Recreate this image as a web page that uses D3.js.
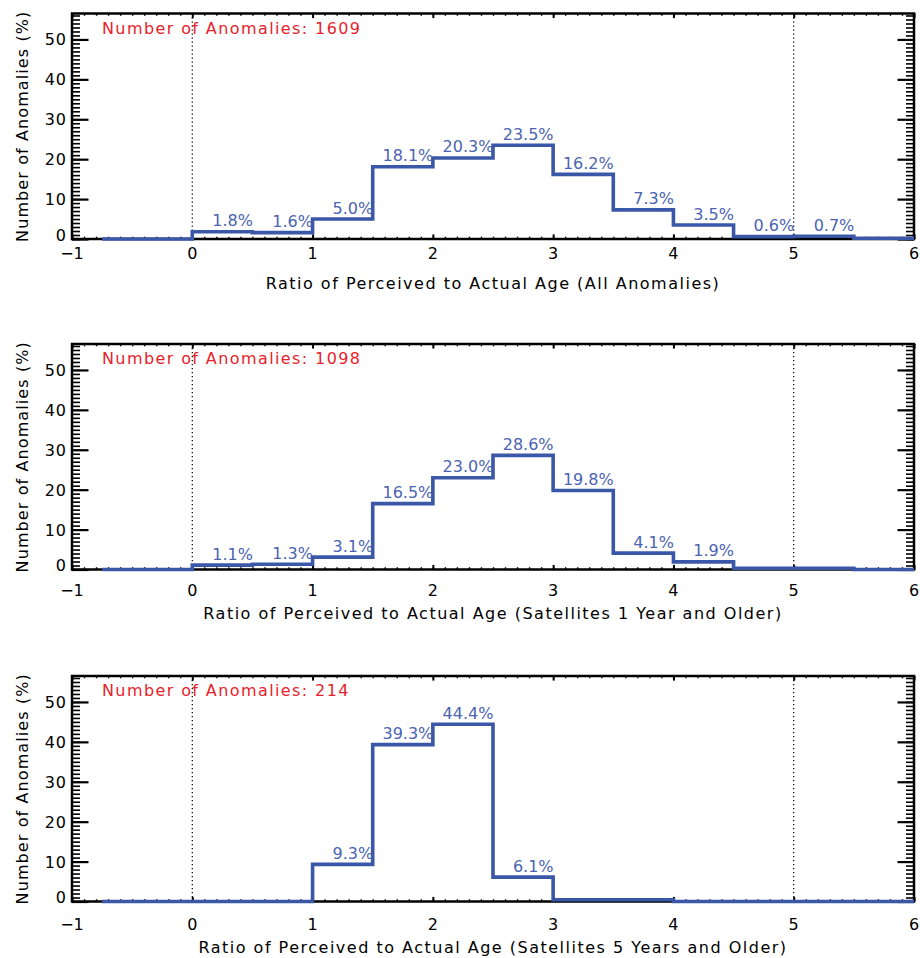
<!DOCTYPE html>
<html><head><meta charset="utf-8">
<script src="https://cdn.jsdelivr.net/npm/d3@7"></script>
<style>
body{margin:0;background:#fff}
text{font-family:"DejaVu Sans",sans-serif}
</style>
</head><body>
<svg id="c" width="920" height="958"></svg>
<script>
// ---- data ----
const binLeft = [0, 0.5, 1, 1.5, 2, 2.5, 3, 3.5, 4, 4.5, 5, 5.5];
const allAnomalies = [1.8, 1.6, 5.0, 18.1, 20.3, 23.5, 16.2, 7.3, 3.5, 0.6, 0.7, 0.2];
const sat1Year     = [1.1, 1.3, 3.1, 16.5, 23.0, 28.6, 19.8, 4.1, 1.9, 0.3, 0.3, 0.0];
const sat5Year     = [0.0, 0.0, 9.3, 39.3, 44.4, 6.1, 0.45, 0.45, 0.0, 0.0, 0.0, 0.0];
const anomalyCounts = [1609, 1098, 214];
const xTitles = [
  "Ratio of Perceived to Actual Age (All Anomalies)",
  "Ratio of Perceived to Actual Age (Satellites 1 Year and Older)",
  "Ratio of Perceived to Actual Age (Satellites 5 Years and Older)"
];
const xTicks = [-1, 0, 1, 2, 3, 4, 5, 6];
const yTicks = [0, 10, 20, 30, 40, 50];
const refLines = [0, 5];
const yTitle = "Number of Anomalies (%)";
const seriesList = [allAnomalies, sat1Year, sat5Year];

// ---- layout ----
const W = 920, H = 958;
const left = 72, right = 914, plotH = 225.5;
const tops = [13.5, 344, 676];
const tickLabelOff = [20, 26, 28];
const titleOff = [50, 49, 51];
const lineColor = "#3b57a7", labelColor = "#4b63b1", red = "#e8222b";

const svg = d3.select("#c");
svg.append("rect").attr("width", W).attr("height", H).attr("fill", "#fff");

const pctFmt = d3.format("\u2007>5.1f");

seriesList.forEach((vals, p) => {
  const T = tops[p], B = T + plotH;
  const x = d3.scaleLinear().domain([-1, 6]).range([left, right]);
  const y = d3.scaleLinear().domain([0, 56.5]).range([B, T]);
  const g = svg.append("g");

  const strip = sel => sel.select(".domain").remove();
  // x ticks bottom
  g.append("g").attr("transform", `translate(0,${B})`)
    .call(d3.axisBottom(x).tickValues(d3.range(-1, 6.001, 0.1)).tickSize(-2.3).tickFormat(""))
    .call(strip).selectAll("line").attr("stroke", "#000").attr("stroke-width", 1.4);
  g.append("g").attr("transform", `translate(0,${B})`)
    .call(d3.axisBottom(x).tickValues(xTicks).tickSize(-4.6).tickFormat(""))
    .call(strip).selectAll("line").attr("stroke", "#000").attr("stroke-width", 2);
  // x ticks top
  g.append("g").attr("transform", `translate(0,${T})`)
    .call(d3.axisTop(x).tickValues(d3.range(-1, 6.001, 0.1)).tickSize(-2.3).tickFormat(""))
    .call(strip).selectAll("line").attr("stroke", "#000").attr("stroke-width", 1.4);
  g.append("g").attr("transform", `translate(0,${T})`)
    .call(d3.axisTop(x).tickValues(xTicks).tickSize(-4.6).tickFormat(""))
    .call(strip).selectAll("line").attr("stroke", "#000").attr("stroke-width", 2);
  // y ticks left / right
  [[d3.axisLeft, left], [d3.axisRight, right]].forEach(([ax, pos]) => {
    g.append("g").attr("transform", `translate(${pos},0)`)
      .call(ax(y).tickValues(d3.range(0, 56.5, 1)).tickSize(-8).tickFormat(""))
      .call(strip).selectAll("line").attr("stroke", "#000").attr("stroke-width", 1.6);
    g.append("g").attr("transform", `translate(${pos},0)`)
      .call(ax(y).tickValues(yTicks).tickSize(-16.5).tickFormat(""))
      .call(strip).selectAll("line").attr("stroke", "#000").attr("stroke-width", 2.2);
  });
  // frame
  g.append("rect").attr("x", left).attr("y", T).attr("width", right - left).attr("height", plotH)
    .attr("fill", "none").attr("stroke", "#000").attr("stroke-width", 2.5);

  // dotted reference lines
  g.selectAll(".ref").data(refLines).join("line")
    .attr("x1", d => x(d)).attr("x2", d => x(d)).attr("y1", T).attr("y2", B)
    .attr("stroke", "#000").attr("stroke-width", 1.2).attr("stroke-dasharray", "1.3,2.7");

  // x tick labels
  g.selectAll(".xt").data(xTicks).join("text")
    .attr("x", d => x(d)).attr("y", B + tickLabelOff[p])
    .attr("text-anchor", "middle").attr("font-size", 16).attr("fill", "#000")
    .text(d => d < 0 ? "\u2212" + Math.abs(d) : d);
  // y tick labels
  g.selectAll(".yt").data(yTicks).join("text")
    .attr("x", left - 5).attr("y", d => Math.min(y(d) + 6, B + 1.5))
    .attr("text-anchor", "end").attr("font-size", 16).attr("fill", "#000")
    .attr("letter-spacing", 1)
    .text(d => d);

  // x title
  g.append("text").attr("x", (left + right) / 2).attr("y", B + titleOff[p])
    .attr("text-anchor", "middle").attr("font-size", 16).attr("fill", "#000")
    .attr("letter-spacing", 1.5).text(xTitles[p]);
  // y title
  g.append("text")
    .attr("transform", `translate(27.5,${(T + B) / 2}) rotate(-90)`)
    .attr("text-anchor", "middle").attr("font-size", 16).attr("fill", "#000")
    .attr("letter-spacing", 1.1).text(yTitle);

  // annotation
  g.append("text").attr("x", 102).attr("y", T + 20)
    .attr("font-size", 16).attr("fill", red).attr("letter-spacing", 1.4)
    .text("Number of Anomalies: " + anomalyCounts[p]);

  // step histogram
  const pts = [[-0.75, 0]].concat(binLeft.map((b, i) => [b, vals[i]]), [[6, vals[vals.length - 1]]]);
  g.append("path").datum(pts)
    .attr("d", d3.line().x(d => x(d[0])).y(d => y(d[1])).curve(d3.curveStepAfter))
    .attr("fill", "none").attr("stroke", lineColor).attr("stroke-width", 3.6);

  // value labels
  g.selectAll(".vl").data(binLeft.map((b, i) => ({ b, v: vals[i] })).filter(d => d.v >= 0.5))
    .join("text")
    .attr("x", d => x(d.b + 0.25)).attr("y", d => y(d.v) - 5.5)
    .attr("text-anchor", "middle").attr("font-size", 16).attr("fill", labelColor)
    .style("white-space", "pre")
    .text(d => pctFmt(d.v) + "%");
});
</script>
</body></html>
